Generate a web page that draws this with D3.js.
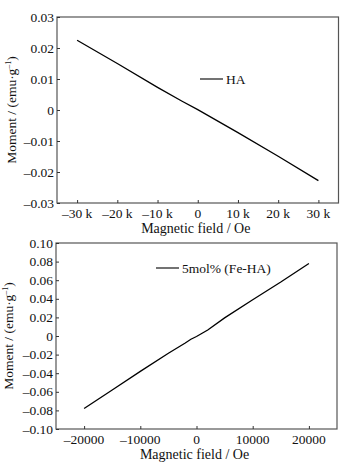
<!DOCTYPE html>
<html>
<head>
<meta charset="utf-8">
<script src="https://cdn.jsdelivr.net/npm/d3@7"></script>
<style>
  body { margin: 0; background: #fff; }
  text { font-family: "Liberation Serif", "Times New Roman", Times, serif; fill: #111; }
</style>
</head>
<body>
<div id="chart"></div>
<script>
// top panel: HA
const haField = [-30000, -20000, -10000, -4000, 0, 10000, 20000, 30000];
const haMoment = [0.0225, 0.0150, 0.0073, 0.0029, 0.0001, -0.0073, -0.0149, -0.0228];
const haXTicks = [-30000, -20000, -10000, 0, 10000, 20000, 30000];
const haXLabels = ['\u201330 k', '\u201320 k', '\u201310 k', '0', '10 k', '20 k', '30 k'];
const haYTicks = [-0.03, -0.02, -0.01, 0, 0.01, 0.02, 0.03];
const haYLabels = ['\u20130.03', '\u20130.02', '\u20130.01', '0', '0.01', '0.02', '0.03'];

// bottom panel: 5mol% Fe-HA
const feField = [-20000, -15000, -10000, -5000, -2000, -1000, 0, 1000, 2000, 5000, 10000, 15000, 20000];
const feMoment = [-0.078, -0.058, -0.038, -0.0185, -0.0075, -0.0035, -0.0005, 0.003, 0.0065, 0.0195, 0.039, 0.058, 0.078];
const feXTicks = [-20000, -10000, 0, 10000, 20000];
const feXLabels = ['\u201320000', '\u201310000', '0', '10000', '20000'];
const feYTicks = [-0.10, -0.08, -0.06, -0.04, -0.02, 0, 0.02, 0.04, 0.06, 0.08, 0.10];
const feYLabels = ['\u20130.10', '\u20130.08', '\u20130.06', '\u20130.04', '\u20130.02', '0', '0.02', '0.04', '0.06', '0.08', '0.10'];

const svg = d3.select('#chart').append('svg')
  .attr('width', 354).attr('height', 468);

function panel(opt) {
  const x = d3.scaleLinear().domain(opt.xDomain).range([opt.left, opt.right]);
  const y = d3.scaleLinear().domain(opt.yDomain).range([opt.bottom, opt.top]);
  const g = svg.append('g');

  // frame
  g.append('rect')
    .attr('x', opt.left).attr('y', opt.top)
    .attr('width', opt.right - opt.left).attr('height', opt.bottom - opt.top)
    .attr('fill', 'none').attr('stroke', '#555').attr('stroke-width', 1.2);

  // inward ticks
  const xAxis = d3.axisTop(x).tickValues(opt.xTicks).tickSize(3).tickFormat('');
  g.append('g').attr('transform', `translate(0,${opt.bottom})`).call(xAxis)
    .call(a => a.select('.domain').remove())
    .selectAll('line').attr('stroke', '#333');
  const yAxis = d3.axisRight(y).tickValues(opt.yTicks).tickSize(3).tickFormat('');
  g.append('g').attr('transform', `translate(${opt.left},0)`).call(yAxis)
    .call(a => a.select('.domain').remove())
    .selectAll('line').attr('stroke', '#333');

  // tick labels
  g.selectAll('.xl').data(opt.xTicks).enter().append('text')
    .attr('x', d => x(d)).attr('y', opt.bottom + 15)
    .attr('text-anchor', 'middle').attr('font-size', 13.5)
    .text((d, i) => opt.xLabels[i]);
  g.selectAll('.yl').data(opt.yTicks).enter().append('text')
    .attr('x', opt.left - 3).attr('y', d => y(d) + 4.5)
    .attr('text-anchor', 'end').attr('font-size', 13.5)
    .text((d, i) => opt.yLabels[i]);

  // axis titles
  g.append('text')
    .attr('x', (opt.left + opt.right) / 2 - 2).attr('y', opt.bottom + 30)
    .attr('text-anchor', 'middle').attr('font-size', 14)
    .text('Magnetic field / Oe');
  const yt = g.append('text')
    .attr('transform', `translate(${opt.yTitleX},${(opt.top + opt.bottom) / 2}) rotate(-90)`)
    .attr('text-anchor', 'middle').attr('font-size', 13.5);
  yt.append('tspan').text('Moment / (emu\u00b7g');
  yt.append('tspan').attr('font-size', 8).attr('dy', -5).text('\u20131');
  yt.append('tspan').attr('dy', 5).text(')');

  // data line
  const pts = opt.field.map((f, i) => [f, opt.moment[i]]);
  g.append('path').datum(pts)
    .attr('fill', 'none').attr('stroke', '#000').attr('stroke-width', 1.3)
    .attr('d', d3.line().x(d => x(d[0])).y(d => y(d[1])));

  // legend
  g.append('line')
    .attr('x1', opt.legX).attr('x2', opt.legX + 23)
    .attr('y1', opt.legY).attr('y2', opt.legY)
    .attr('stroke', '#000').attr('stroke-width', 1.1);
  g.append('text')
    .attr('x', opt.legX + 26).attr('y', opt.legY + 4.5)
    .attr('font-size', 13.5).text(opt.label);
}

panel({
  left: 57, right: 338.5, top: 17, bottom: 203,
  xDomain: [-35000, 35000], yDomain: [-0.03, 0.03],
  xTicks: haXTicks, xLabels: haXLabels, yTicks: haYTicks, yLabels: haYLabels,
  field: haField, moment: haMoment,
  yTitleX: 16, legX: 200, legY: 79, label: 'HA'
});

panel({
  left: 56, right: 337, top: 243, bottom: 429,
  xDomain: [-25000, 25000], yDomain: [-0.10, 0.10],
  xTicks: feXTicks, xLabels: feXLabels, yTicks: feYTicks, yLabels: feYLabels,
  field: feField, moment: feMoment,
  yTitleX: 13, legX: 156, legY: 268, label: '5mol% (Fe-HA)'
});
</script>
</body>
</html>
